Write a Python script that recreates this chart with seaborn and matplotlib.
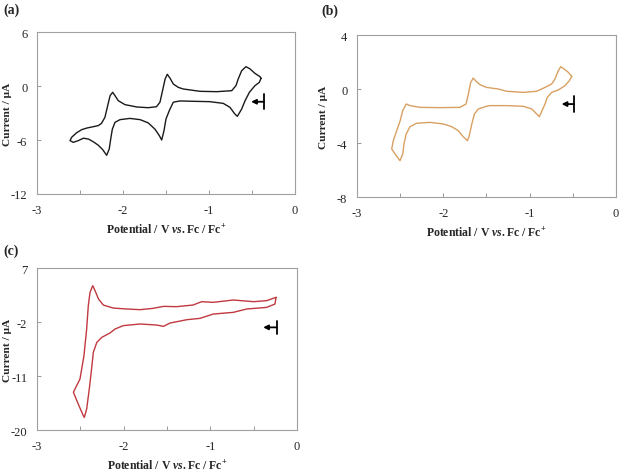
import numpy as np
import pandas as pd
import matplotlib
matplotlib.use("Agg")
import matplotlib.pyplot as plt
import seaborn as sns

# ---- data (closed CV loops, V vs Fc/Fc+, current in uA) ----
# (a) black trace: right tip -> lower branch -> left tip -> upper branch -> right tip
pot_a = [-0.395, -0.415, -0.465, -0.53, -0.58, -0.62, -0.67, -0.70, -0.756, -0.834, -0.99, -1.18,
         -1.337, -1.415, -1.46, -1.50, -1.523, -1.55, -1.578, -1.628, -1.706, -1.80, -1.92, -2.035,
         -2.093, -2.124, -2.143, -2.16, -2.19, -2.236, -2.29, -2.345, -2.40, -2.46, -2.52, -2.578,
         -2.616,
         -2.597, -2.54, -2.48, -2.42, -2.345, -2.287, -2.25, -2.21, -2.178, -2.15, -2.12, -2.093,
         -2.055, -1.977, -1.84, -1.706, -1.61, -1.57, -1.54, -1.51, -1.485, -1.453, -1.415, -1.357,
         -1.30, -1.105, -0.91, -0.736, -0.686, -0.66, -0.62, -0.57, -0.523, -0.465, -0.407, -0.395]
cur_a = [0.85, 0.4, 0.04, -0.7, -1.63, -2.56, -3.37, -3.1, -2.37, -1.93, -1.74, -1.7,
         -1.66, -1.8, -2.7, -3.67, -4.96, -6.0, -5.5, -4.8, -4.1, -3.74, -3.6, -3.74,
         -4.04, -4.8, -5.9, -7.0, -7.7, -7.07, -6.56, -6.2, -5.9, -5.8, -6.07, -6.26,
         -6.07,
         -5.7, -5.2, -4.85, -4.67, -4.52, -4.4, -4.15, -3.48, -2.19, -1.07, -0.7, -1.07,
         -1.63, -2.07, -2.33, -2.41, -2.3, -1.8, -0.52, 0.78, 1.3, 0.87, 0.22, -0.15,
         -0.33, -0.59, -0.63, -0.52, 0.04, 0.78, 1.7, 2.15, 1.9, 1.4, 1.04, 0.85]

# (b) orange trace
pot_b = [-0.513, -0.54, -0.59, -0.668, -0.745, -0.796, -0.822, -0.86, -0.888, -0.918, -0.976, -1.074,
         -1.266, -1.46, -1.50, -1.595, -1.64, -1.67, -1.70, -1.72, -1.77, -1.826, -1.903, -2.0,
         -2.155, -2.31, -2.386, -2.43, -2.456, -2.47, -2.502, -2.56, -2.598,
         -2.58, -2.54, -2.50, -2.47, -2.43, -2.386, -2.27, -2.04, -1.807, -1.737, -1.71,
         -1.683, -1.653, -1.62, -1.575, -1.50, -1.363, -1.266, -1.074, -0.92, -0.822, -0.745, -0.707,
         -0.668, -0.64, -0.60, -0.553, -0.513]
cur_b = [0.94, 0.62, 0.25, -0.07, -0.25, -0.62, -1.11, -1.65, -2.05, -1.85, -1.48, -1.28,
         -1.23, -1.23, -1.28, -1.48, -1.85, -2.59, -3.46, -3.83, -3.53, -3.09, -2.79, -2.59,
         -2.47, -2.54, -2.79, -3.33, -4.07, -4.81, -5.31, -4.81, -4.44,
         -3.83, -3.09, -2.35, -1.6, -1.11, -1.23, -1.36, -1.38, -1.36, -1.11, -0.37,
         0.49, 0.81, 0.57, 0.32, 0.12, 0.0, -0.17, -0.25, -0.17, 0.12, 0.37, 0.74,
         1.36, 1.65, 1.48, 1.24, 0.94]

# (c) red trace
pot_c = [-0.242, -0.254, -0.35, -0.58, -0.735, -0.966, -1.12, -1.27, -1.465, -1.54, -1.62, -1.81,
         -2.004, -2.10, -2.158, -2.253, -2.31, -2.35, -2.37, -2.397, -2.427, -2.454, -2.466, -2.523,
         -2.58,
         -2.504, -2.458, -2.427, -2.408, -2.388, -2.357, -2.33, -2.29, -2.235, -2.12, -1.965, -1.81,
         -1.66, -1.54, -1.39, -1.20, -1.10, -0.966, -0.735, -0.50, -0.35, -0.242]
cur_c = [2.11, 1.0, 0.44, 0.17, -0.39, -0.67, -1.39, -1.61, -2.17, -2.72, -2.5, -2.33,
         -2.6, -3.17, -3.83, -4.56, -5.4, -7.05, -9.8, -13.2, -16.5, -17.9, -17.6, -15.7,
         -13.7,
         -11.5, -7.6, -3.17, 0.72, 2.94, 4.06, 3.22, 1.83, 0.83, 0.33, 0.17, 0.06,
         0.28, 0.61, 0.56, 0.83, 1.39, 1.28, 1.67, 1.39, 1.56, 2.11]

# y ticks per panel
yticks_a = [-12, -6, 0, 6]
yticks_b = [-8, -4, 0, 4]
yticks_c = [-20, -11, -2, 7]
xticks = [-3, -2, -1, 0]

# start-of-scan marker (bar x, bar y0, bar y1, arrow tip x)
start_a = (-0.36, -0.9, -2.6, -0.51)
start_b = (-0.49, -0.5, -1.73, -0.63)
start_c = (-0.234, -1.78, -4.0, -0.39)

sns.set_style("white")
plt.rcParams["font.family"] = ["Liberation Serif", "DejaVu Serif"]
plt.rcParams["axes.unicode_minus"] = False
plt.rcParams["mathtext.fontset"] = "custom"
plt.rcParams["mathtext.rm"] = "Liberation Serif:bold"
plt.rcParams["mathtext.it"] = "Liberation Serif:italic:bold"

fig = plt.figure(figsize=(6.26, 4.77), dpi=100)
boxes = [[0.0591, 0.5912, 0.4121, 0.3396],
         [0.5703, 0.5849, 0.4137, 0.3396],
         [0.0591, 0.0964, 0.4153, 0.3396]]
tag_pos = [(0.005, 0.979), (0.514, 0.977), (0.005, 0.474)]
ylab_x = [-0.098, -0.112, -0.098]

panels = [
    ("(a)", pot_a, cur_a, yticks_a, start_a, "#1a1a1a"),
    ("(b)", pot_b, cur_b, yticks_b, start_b, "#d9a062"),
    ("(c)", pot_c, cur_c, yticks_c, start_c, "#c0393f"),
]

for box, tp, lx, (tag, pot, cur, yt, st, col) in zip(boxes, tag_pos, ylab_x, panels):
    ax = fig.add_axes(box)
    df = pd.DataFrame({"pot": pot, "cur": cur})
    sns.lineplot(data=df, x="pot", y="cur", sort=False, estimator=None,
                 color=col, linewidth=1.0, ax=ax,
                 solid_joinstyle="round", solid_capstyle="round")
    ax.set_xlim(-3, 0)
    ax.set_ylim(yt[0], yt[-1])
    ax.set_xticks(xticks)
    ax.set_xticklabels([str(t) for t in xticks])
    ax.set_xticks(np.arange(-2.5, 0, 1.0), minor=True)
    ax.set_yticks(yt)
    ax.set_yticklabels([str(t) for t in yt])
    ax.tick_params(which="both", direction="in", length=3, width=0.6, color="#888888",
                   labelsize=9, bottom=True, left=True, pad=7)
    for s in ax.spines.values():
        s.set_color("#a0a0a0")
        s.set_linewidth(0.8)
    ax.set_xlabel(r"Potential / V $\mathit{vs.}$Fc / Fc$^{+}$", fontsize=8.5,
                  fontweight="bold", labelpad=5)
    ax.set_ylabel("Current / μA", fontsize=8.2, fontweight="bold")
    ax.yaxis.set_label_coords(lx, 0.5)

    # scan start marker
    bx, by0, by1, tip = st
    ax.plot([bx, bx], [by0, by1], color="black", linewidth=1.3)
    ax.annotate("", xy=(tip, (by0 + by1) / 2), xytext=(bx, (by0 + by1) / 2),
                arrowprops=dict(arrowstyle="-|>", color="black", lw=1.3,
                                mutation_scale=7, shrinkA=0, shrinkB=0))

    fig.text(tp[0], tp[1], tag, fontsize=10, fontweight="bold", ha="left", va="center")

fig.savefig("out.png", dpi=100)
